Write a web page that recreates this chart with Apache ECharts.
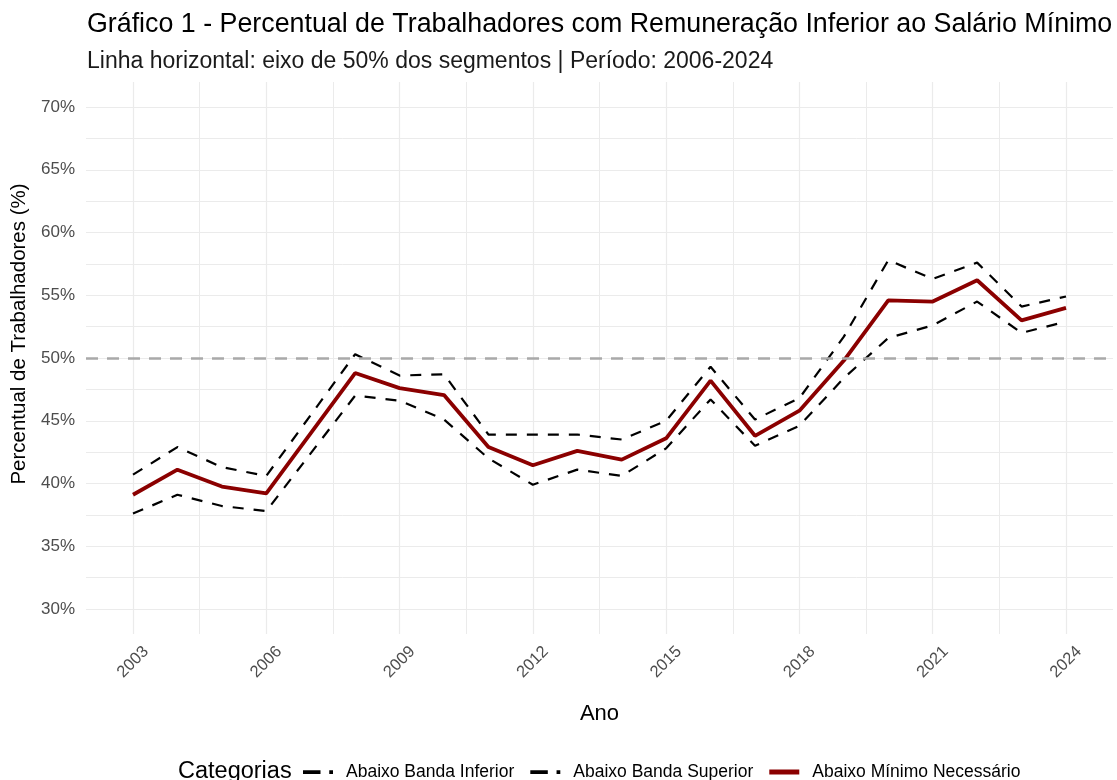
<!DOCTYPE html>
<html>
<head>
<meta charset="utf-8">
<script src="https://cdn.jsdelivr.net/npm/echarts@6/dist/echarts.min.js"></script>
<style>
  html, body { margin: 0; padding: 0; background: #fff; }
  #chart { width: 1117px; height: 780px; }
</style>
</head>
<body>
<div id="chart"></div>
<script>
  // anos (2007 não aparece na série)
  var anos = [2003, 2004, 2005, 2006, 2008, 2009, 2010, 2011, 2012, 2013, 2014,
              2015, 2016, 2017, 2018, 2019, 2020, 2021, 2022, 2023, 2024];
  var bandaInferior = [37.6, 39.1, 38.2, 37.8, 47.0, 46.6, 45.1, 42.0, 39.9, 41.1, 40.6,
                       42.8, 46.7, 43.0, 44.6, 48.4, 51.6, 52.6, 54.5, 52.0, 52.9];
  var bandaSuperior = [40.7, 42.9, 41.3, 40.6, 50.3, 48.6, 48.7, 43.9, 43.9, 43.9, 43.5,
                       45.0, 49.3, 45.1, 46.8, 51.7, 57.8, 56.3, 57.6, 54.1, 54.9];
  var minimoNecessario = [39.1, 41.1, 39.75, 39.2, 48.8, 47.6, 47.05, 42.9, 41.45, 42.6, 41.9,
                          43.6, 48.2, 43.8, 45.8, 49.8, 54.6, 54.5, 56.2, 53.0, 54.0];
  var linhaReferencia = 50;

  function pares(vals) {
    return anos.map(function (a, i) { return [a, vals[i]]; });
  }

  var chart = echarts.init(document.getElementById('chart'));
  var fonte = '"Liberation Sans", Arial, sans-serif';
  var iconeTracejado = 'path://M0,0H14V3H0Z M21,0H24V3H21Z';
  var iconeSolido = 'path://M0,0H30V5H0Z';

  chart.setOption({
    animation: false,
    textStyle: { fontFamily: fonte },
    title: [{
      text: 'Gráfico 1 - Percentual de Trabalhadores com Remuneração Inferior ao Salário Mínimo',
      subtext: 'Linha horizontal: eixo de 50% dos segmentos | Período: 2006-2024',
      left: 82,
      top: 6,
      itemGap: 12,
      textStyle: { fontSize: 26.8, fontWeight: 'normal', color: '#000', fontFamily: fonte },
      subtextStyle: { fontSize: 23, color: '#1a1a1a', fontFamily: fonte }
    }, {
      text: 'Categorias',
      left: 173,
      top: 755,
      textStyle: { fontSize: 23.5, fontWeight: 'normal', color: '#000', fontFamily: fonte }
    }],
    legend: {
      data: [
        { name: 'Abaixo Banda Inferior', icon: iconeTracejado },
        { name: 'Abaixo Banda Superior', icon: iconeTracejado },
        { name: 'Abaixo Mínimo Necessário', icon: iconeSolido }
      ],
      left: 298,
      top: 758,
      itemWidth: 30,
      itemHeight: 5,
      itemGap: 16,
      textStyle: { fontSize: 17.5, color: '#000', fontFamily: fonte, padding: [0, 0, 0, 8] }
    },
    grid: [
      { left: 86, right: 4, top: 107, bottom: 171 },
      { left: 133, right: 51, top: 82, bottom: 146 }
    ],
    xAxis: [{
      gridIndex: 0, type: 'value', min: 0, max: 1, show: false
    }, {
      gridIndex: 1,
      type: 'value',
      min: 2003,
      max: 2024,
      interval: 3,
      name: 'Ano',
      nameLocation: 'middle',
      nameGap: 69,
      nameTextStyle: { fontSize: 22, color: '#000' },
      axisLine: { show: false },
      axisTick: { show: false },
      minorTick: { show: false, splitNumber: 2 },
      splitLine: { show: true, lineStyle: { color: '#ebebeb', width: 1.2 } },
      minorSplitLine: { show: true, lineStyle: { color: '#ebebeb', width: 1 } },
      axisLabel: {
        rotate: 45,
        align: 'center',
        verticalAlign: 'middle',
        margin: 28,
        fontSize: 16.5,
        color: '#4d4d4d',
        formatter: function (v) { return String(v); }
      }
    }],
    yAxis: [{
      gridIndex: 0,
      type: 'value',
      min: 30,
      max: 70,
      interval: 5,
      name: 'Percentual de Trabalhadores (%)',
      nameLocation: 'middle',
      nameGap: 54,
      nameTextStyle: { fontSize: 20.5, color: '#000', padding: [0, 0, 0, 48] },
      axisLine: { show: false },
      axisTick: { show: false },
      minorTick: { show: false, splitNumber: 2 },
      splitLine: { show: true, lineStyle: { color: '#ebebeb', width: 1.2 } },
      minorSplitLine: { show: true, lineStyle: { color: '#ebebeb', width: 1 } },
      axisLabel: { formatter: '{value}%', fontSize: 17, color: '#4d4d4d', margin: 11 }
    }, {
      gridIndex: 1, type: 'value', min: 28, max: 72, show: false
    }],
    series: [{
      name: 'ref',
      type: 'line',
      xAxisIndex: 0,
      yAxisIndex: 0,
      data: [],
      markLine: {
        silent: true,
        symbol: 'none',
        label: { show: false },
        lineStyle: { color: '#a9a9a9', type: [12, 9], width: 2.5 },
        data: [{ yAxis: linhaReferencia }]
      }
    }, {
      name: 'Abaixo Banda Inferior',
      type: 'line',
      xAxisIndex: 1,
      yAxisIndex: 1,
      symbol: 'none',
      data: pares(bandaInferior),
      lineStyle: { color: '#000', width: 2.2, type: [11, 10] },
      itemStyle: { color: '#000' }
    }, {
      name: 'Abaixo Banda Superior',
      type: 'line',
      xAxisIndex: 1,
      yAxisIndex: 1,
      symbol: 'none',
      data: pares(bandaSuperior),
      lineStyle: { color: '#000', width: 2.2, type: [11, 10] },
      itemStyle: { color: '#000' }
    }, {
      name: 'Abaixo Mínimo Necessário',
      type: 'line',
      xAxisIndex: 1,
      yAxisIndex: 1,
      symbol: 'none',
      data: pares(minimoNecessario),
      lineStyle: { color: '#8b0000', width: 3.8 },
      itemStyle: { color: '#8b0000' }
    }]
  });
</script>
</body>
</html>
